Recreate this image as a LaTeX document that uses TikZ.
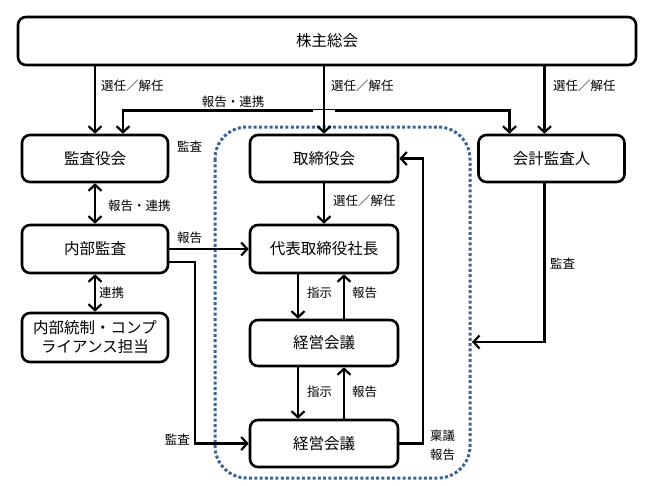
\documentclass[tikz,border=0pt]{standalone}
\usepackage{fontspec}
\setmainfont{Noto Sans CJK JP}
\usetikzlibrary{arrows.meta}
\definecolor{groupline}{HTML}{3B6496}
\tikzset{
  box/.style={draw, line width=2.6pt, rounded corners=8pt, minimum width=146pt,
              minimum height=47pt, font=\fontsize{15.5}{19}\selectfont, inner sep=0pt, align=center},
  flow/.style={line width=2.6pt, -{Straight Barb[length=6pt, width=13pt, line width=2.2pt]}},
  twoway/.style={line width=2.6pt, {Straight Barb[length=6pt, width=13pt, line width=2.2pt]}-{Straight Barb[length=6pt, width=13pt, line width=2.2pt]}},
  lbl/.style={font=\fontsize{12.5}{15}\selectfont, inner sep=0pt},
  groupbox/.style={draw=groupline, line width=3pt, dash pattern=on 3pt off 2.3pt, rounded corners=32pt},
}
\begin{document}
\begin{tikzpicture}[x=1pt, y=-1pt]
    \useasboundingbox (0,0) rectangle (647,485);
    % group of the executive side
    \draw[groupbox] (215,127) rectangle (470,478);

    \node[box, minimum width=618pt, minimum height=48pt] (soukai) at (327,41) {株主総会};
    \node[box] (kansayaku) at (95,158.5) {監査役会};
    \node[box, minimum width=148pt] (torishimari) at (324,158.5) {取締役会};
    \node[box] (kaikei) at (551.5,158.5) {会計監査人};
    \node[box, minimum height=48pt] (naibu) at (95,249) {内部監査};
    \node[box, minimum width=148pt, minimum height=48pt] (shacho) at (324,249) {代表取締役社長};
    \node[box, minimum height=49pt] (tousei) at (95,337.5) {内部統制・コンプ\\ライアンス担当};
    \node[box, minimum width=148pt, minimum height=46pt] (keiei1) at (324,343) {経営会議};
    \node[box, minimum width=148pt] (keiei2) at (324,443.5) {経営会議};

    % appointment from the general meeting
    \coordinate (kaikeitop) at ([xshift=-7pt]kaikei.north);
    \coordinate (kaikeibot) at ([xshift=-7pt]kaikei.south);
    \draw[twoway] ([xshift=28pt]kansayaku.north) -- ++(0,-23) -| ([xshift=-42pt]kaikei.north);
    \coordinate (cross) at (torishimari.north |- 0,112);
    \draw[white, line width=5pt] ([xshift=-11pt]cross) -- ([xshift=11pt]cross);
    \draw[flow] (soukai.south -| kansayaku.north) -- (kansayaku.north);
    \draw[flow] (soukai.south -| torishimari.north) -- (torishimari.north);
    \draw[flow] (soukai.south -| kaikeitop) -- (kaikeitop);
    \node[lbl, anchor=west] (sennin1) at (101,86) {選任／解任};
    \node[lbl, anchor=west] (sennin2) at (331,86) {選任／解任};
    \node[lbl, anchor=west] (sennin3) at (553,86) {選任／解任};
    \node[lbl] (renkei1) at (233,102) {報告・連携};
    \node[lbl, anchor=west] (kansa1) at (177,147) {監査};

    % audit side
    \draw[twoway] (kansayaku.south) -- (naibu.north);
    \node[lbl, anchor=west] (renkei2) at (108,206) {報告・連携};
    \draw[twoway] (naibu.south) -- (tousei.north);
    \node[lbl, anchor=west] (renkei3) at (99,293) {連携};
    \draw[flow] (naibu.east) -- (shacho.west);
    \node[lbl, anchor=west] (houkoku1) at (177,238) {報告};
    \draw[flow] ([yshift=-13pt]naibu.east) -| (195,400) |- (keiei2.west);
    \node[lbl, anchor=east] (kansa2) at (190,440) {監査};

    % executive chain
    \draw[flow] (torishimari.south) -- (shacho.north);
    \node[lbl, anchor=west] (sennin4) at (333,201) {選任／解任};
    \draw[flow] ([xshift=-26pt]shacho.south) -- ([xshift=-26pt]keiei1.north);
    \draw[flow] ([xshift=20pt]keiei1.north) -- ([xshift=20pt]shacho.south);
    \node[lbl, anchor=west] (shiji1) at (307,293) {指示};
    \node[lbl, anchor=west] (houkoku2) at (352,293) {報告};
    \draw[flow] ([xshift=-26pt]keiei1.south) -- ([xshift=-26pt]keiei2.north);
    \draw[flow] ([xshift=20pt]keiei2.north) -- ([xshift=20pt]keiei1.south);
    \node[lbl, anchor=west] (shiji2) at (307,392) {指示};
    \node[lbl, anchor=west] (houkoku3) at (352,392) {報告};
    \draw[flow] (keiei2.east) -- (423,443.5) |- (torishimari.east);
    \node[lbl, anchor=west] (ringi) at (430,436) {稟議};
    \node[lbl, anchor=west] (houkoku4) at (430,455) {報告};

    % external auditor
    \coordinate (kaikeiin) at (472,342);
    \draw[flow] (kaikeibot) |- (kaikeiin);
    \node[lbl, anchor=west] (kansa3) at (550,264) {監査};
\end{tikzpicture}
\end{document}
